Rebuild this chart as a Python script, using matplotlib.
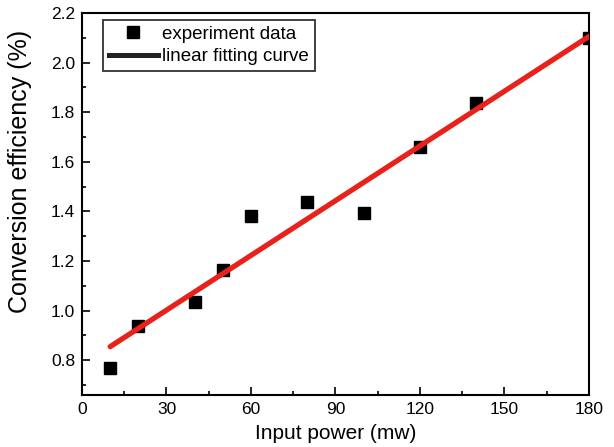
import matplotlib.pyplot as plt
from matplotlib.ticker import MultipleLocator

plt.rcParams['font.family'] = ['Liberation Sans', 'DejaVu Sans']

# experiment data
power = [10, 20, 40, 50, 60, 80, 100, 120, 140, 180]
efficiency = [0.77, 0.94, 1.035, 1.165, 1.383, 1.436, 1.392, 1.658, 1.838, 2.10]

# linear fitting curve (end points)
fit_power = [10, 180]
fit_eff = [0.855, 2.105]

fig = plt.figure(figsize=(6.14, 4.47), dpi=100)
ax = fig.add_axes([0.1336, 0.1163, 0.8254, 0.8547])

ax.plot(fit_power, fit_eff, color='#e8211b', lw=3.8, solid_capstyle='round',
        zorder=3)
ax.plot(power, efficiency, 's', color='black', ms=9, ls='none', zorder=2)

# legend handles (line drawn dark in the legend)
h1, = ax.plot([], [], 's', color='black', ms=9, ls='none')
h2, = ax.plot([], [], color='#222222', lw=3.6)
leg = ax.legend([h1, h2], ['experiment data', 'linear fitting curve'],
                loc='upper left', bbox_to_anchor=(0.042, 0.982), fontsize=13.5,
                frameon=True, fancybox=False, edgecolor='black',
                handlelength=2.6, handletextpad=0.25, borderpad=0.3,
                borderaxespad=0.0, labelspacing=0.3)
leg.get_frame().set_linewidth(1.3)

ax.set_xlim(0, 180)
ax.set_ylim(0.66, 2.2)
ax.xaxis.set_major_locator(MultipleLocator(30))
ax.xaxis.set_minor_locator(MultipleLocator(15))
ax.yaxis.set_minor_locator(MultipleLocator(0.1))
ax.set_yticks([0.8, 1.0, 1.2, 1.4, 1.6, 1.8, 2.0, 2.2])
ax.yaxis.set_major_formatter(plt.FormatStrFormatter('%.1f'))

ax.tick_params(which='both', direction='in', labelsize=12.5, top=False,
               right=False, width=1.2)
ax.tick_params(which='major', length=6, pad=5)
ax.tick_params(which='minor', length=3)
for s in ax.spines.values():
    s.set_linewidth(1.5)

ax.set_xlabel('Input power (mw)', fontsize=15, labelpad=5)
ax.set_ylabel('Conversion efficiency (%)', fontsize=18)
ax.yaxis.set_label_coords(-0.098, 0.586)

fig.savefig('out.png', dpi=100)
